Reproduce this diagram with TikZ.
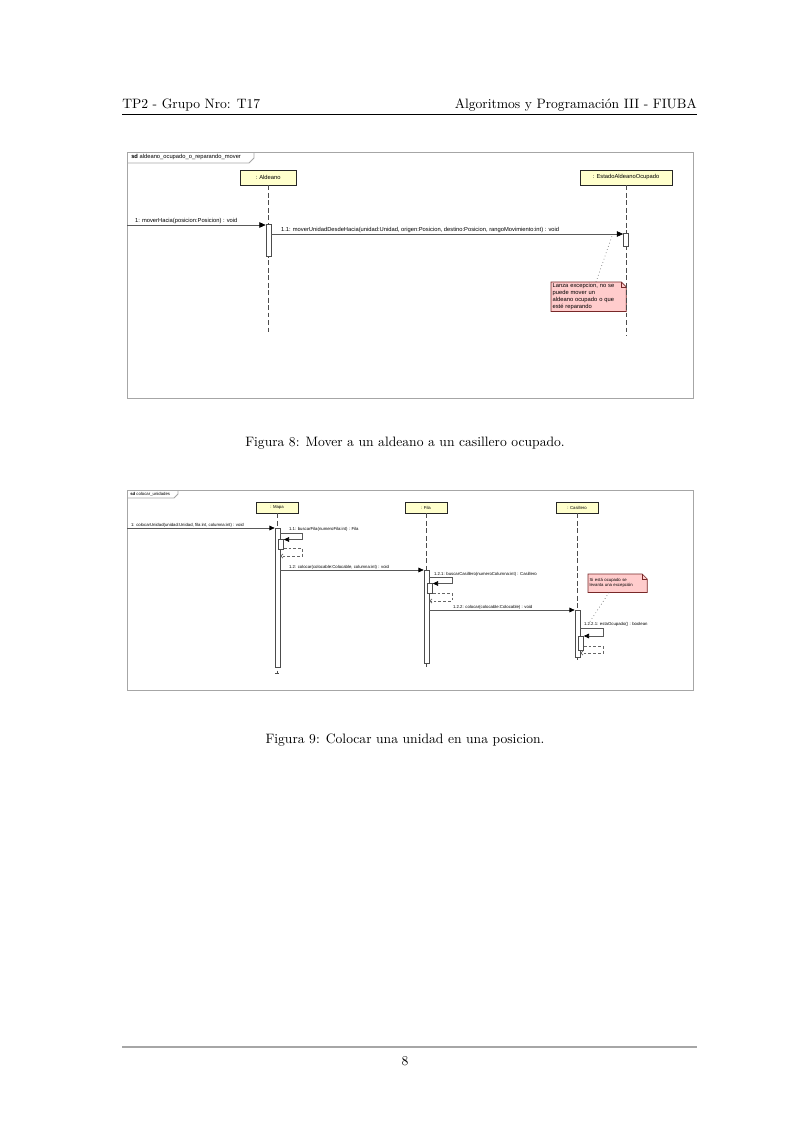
\documentclass[tikz,border=0pt]{standalone}
\usepackage{fontspec}
\newfontfamily\umlfont{Liberation Sans}
\usetikzlibrary{positioning,arrows.meta,backgrounds}
\definecolor{headfill}{RGB}{255,255,204}
\definecolor{notefill}{RGB}{255,204,204}
\definecolor{noteline}{RGB}{120,40,40}
\def\px{0.7349pt}
\newcommand{\umlA}{\umlfont\fontsize{4.25}{5.1}\selectfont}
\newcommand{\umlB}{\umlfont\fontsize{3.15}{3.8}\selectfont}
\tikzset{
  sdframe/.style={draw=black!35, line width=0.6pt},
  tabtext/.style={anchor=west, inner sep=0pt},
  head/.style={draw=black!85, fill=headfill, line width=0.7pt, inner sep=0pt},
  lifeline/.style={draw=black!70, dash pattern=on 3.5pt off 2pt, line width=0.5pt},
  actbar/.style={draw=black!70, fill=white, line width=0.5pt, minimum width=5*\px, inner sep=0pt, anchor=north},
  msg/.style={draw=black!65, line width=0.5pt, -{Triangle[length=4.6pt,width=4pt,color=black]}},
  smallmsg/.style={draw=black!65, line width=0.5pt, -{Triangle[length=3.8pt,width=3.4pt,color=black]}},
  reply/.style={draw=black!60, dash pattern=on 2pt off 1.5pt, line width=0.5pt, -{Straight Barb[length=1.6pt,width=3pt]}},
  msglabel/.style={anchor=south west, inner sep=0.6pt},
  notebox/.style={inner sep=1pt, anchor=north west, align=left},
  noteedge/.style={draw=noteline, fill=notefill, line width=0.5pt},
  notelink/.style={draw=black!60, dotted, line width=0.5pt},
}

\begin{document}
\begin{tikzpicture}[x=\px, y=-\px]
\useasboundingbox (0,0) rectangle (810,1145);

%Header and footer
\node[anchor=base west, inner sep=0pt] (hleft) at (122,108) {TP2 - Grupo Nro: T17};
\node[anchor=base east, inner sep=0pt] (hright) at (697,108) {Algoritmos y Programación III - FIUBA};
\draw[line width=0.4pt] (122,114) -- (697,114);
\draw[black!35, line width=0.9pt] (122,1047) -- (697,1047);
\node[anchor=base, inner sep=0pt] (pagenum) at (405,1065) {8};

%Figure 8
\draw[sdframe] (127,152) rectangle (693,398);
\draw[sdframe] (127,163) -- (249,163) -- (254,158) -- (254,152);
\node[tabtext, font=\umlA] (tab8) at (131,157.5) {\textbf{sd} aldeano\_ocupado\_o\_reparando\_mover};

\node[head, font=\umlA, minimum width=56*\px, minimum height=15*\px] (aldeano) at (268,177.5) {: Aldeano};
\node[head, font=\umlA, minimum width=92*\px, minimum height=15*\px] (estado) at (626,177.5) {: EstadoAldeanoOcupado};
\draw[lifeline] (aldeano.south) -- (268,332);
\draw[lifeline] (estado.south) -- (626,336);

\node[actbar, minimum height=32*\px] (actA) at (268.5,224) {};
\node[actbar, minimum height=13*\px] (actE) at (626,233) {};

\coordinate (in8) at (127,225);
\draw[msg] (in8) -- (in8 -| actA.west);
\node[msglabel, font=\umlA] (lbl1) at (134,225) {1: moverHacia(posicion:Posicion) : void};
\coordinate (out11) at (actA.east |- 0,234);
\draw[msg] (out11) -- (out11 -| actE.west);
\node[msglabel, font=\umlA] (lbl11) at (280,234) {1.1: moverUnidadDesdeHacia(unidad:Unidad, origen:Posicion, destino:Posicion, rangoMovimiento:int) : void};

\node[notebox, font=\umlA, text width=72*\px] (note8) at (551,282) {Lanza excepcion, no se\\puede mover un\\aldeano ocupado o que\\esté reparando};
\begin{scope}[on background layer]
\draw[noteedge] (note8.north west) -- ([xshift=-5*\px]note8.north east) -- ([yshift=-5*\px]note8.north east) -- (note8.south east) -- (note8.south west) -- cycle;
\end{scope}
\draw[noteline, line width=0.4pt] ([xshift=-5*\px]note8.north east) -- ([xshift=-5*\px, yshift=-5*\px]note8.north east) -- ([yshift=-5*\px]note8.north east);
\coordinate (n8tip) at (612,236);
\draw[notelink] (note8.north -| 596,0) -- (n8tip);

\node[anchor=base, inner sep=0pt] (cap8) at (405,446) {Figura 8: Mover a un aldeano a un casillero ocupado.};

%Figure 9
\draw[sdframe] (127,490) rectangle (693,690);
\draw[sdframe] (127,498) -- (174,498) -- (178,494) -- (178,490);
\node[tabtext, font=\umlB] (tab9) at (130,494) {\textbf{sd} colocar\_unidades};

\node[head, font=\umlB, minimum width=42*\px, minimum height=11*\px] (mapa) at (277,507.5) {: Mapa};
\node[head, font=\umlB, minimum width=42*\px, minimum height=11*\px] (fila) at (426,507.5) {: Fila};
\node[head, font=\umlB, minimum width=42*\px, minimum height=11*\px] (casillero) at (577,507.5) {: Casillero};
\draw[lifeline] (mapa.south) -- (277,673);
\draw[black!70, line width=0.5pt] (275,673) -- (279,673);
\draw[lifeline] (fila.south) -- (426,667);
\draw[lifeline] (casillero.south) -- (577,662);

\node[actbar, minimum height=139*\px] (actM) at (277.5,528) {};
\node[actbar, minimum height=10*\px] (actM2) at (281,539) {};
\node[actbar, minimum height=93*\px] (actF) at (426.5,570) {};
\node[actbar, minimum height=10*\px] (actF2) at (430,583) {};
\node[actbar, minimum height=47*\px] (actC) at (577.5,610) {};
\node[actbar, minimum height=14*\px] (actC2) at (581,636) {};

\coordinate (in9) at (127,528);
\draw[smallmsg] (in9) -- (in9 -| actM.west);
\node[msglabel, font=\umlB] (lbl9a) at (130,528) {1: colocarUnidad(unidad:Unidad, fila:int, columna:int) : void};

\coordinate (s11) at (actM.east |- 0,533);
\draw[smallmsg] (s11) -- (302,533) -- (302,539.5) -- (actM2.east |- 0,539.5);
\node[msglabel, font=\umlB] (lbl11b) at (288,532) {1.1: buscarFila(numeroFila:int) : Fila};
\coordinate (r11) at (actM2.east |- 0,548);
\draw[reply] (r11) -- (302,548) -- (302,556) -- (actM.east |- 0,556);

\coordinate (s12) at (actM.east |- 0,570);
\draw[smallmsg] (s12) -- (s12 -| actF.west);
\node[msglabel, font=\umlB] (lbl12) at (288,570) {1.2: colocar(colocable:Colocable, columna:int) : void};

\coordinate (s121) at (actF.east |- 0,577);
\draw[smallmsg] (s121) -- (452,577) -- (452,583.5) -- (actF2.east |- 0,583.5);
\node[msglabel, font=\umlB] (lbl121) at (433,577) {1.2.1: buscarCasillero(numeroColumna:int) : Casillero};
\coordinate (r121) at (actF2.east |- 0,593);
\draw[reply] (r121) -- (452,593) -- (452,601) -- (actF.east |- 0,601);

\coordinate (s122) at (actF.east |- 0,610);
\draw[smallmsg] (s122) -- (s122 -| actC.west);
\node[msglabel, font=\umlB] (lbl122) at (452,610) {1.2.2: colocar(colocable:Colocable) : void};

\coordinate (s1221) at (actC.east |- 0,628);
\draw[smallmsg] (s1221) -- (603,628) -- (603,636) -- (actC2.east |- 0,636);
\node[msglabel, font=\umlB] (lbl1221) at (583,627) {1.2.2.1: estaOcupado() : boolean};
\coordinate (r1221) at (actC2.east |- 0,646);
\draw[reply] (r1221) -- (603,646) -- (603,653) -- (actC.east |- 0,653);

\node[notebox, font=\umlB, text width=56*\px, minimum height=18*\px] (note9) at (588,574) {Si está ocupado se\\levanta una excepción};
\begin{scope}[on background layer]
\draw[noteedge] (note9.north west) -- ([xshift=-5*\px]note9.north east) -- ([yshift=-5*\px]note9.north east) -- (note9.south east) -- (note9.south west) -- cycle;
\end{scope}
\draw[noteline, line width=0.4pt] ([xshift=-5*\px]note9.north east) -- ([xshift=-5*\px, yshift=-5*\px]note9.north east) -- ([yshift=-5*\px]note9.north east);
\coordinate (n9tip) at (589,623);
\draw[notelink] (note9.south -| 609,0) -- (n9tip);

\node[anchor=base, inner sep=0pt] (cap9) at (405,743) {Figura 9: Colocar una unidad en una posicion.};
\end{tikzpicture}
\end{document}
